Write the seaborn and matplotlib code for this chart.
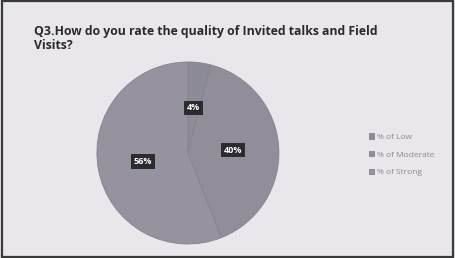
import matplotlib
matplotlib.use('Agg')
import matplotlib.pyplot as plt
import seaborn as sns

# Chart data
categories = ['% of Low', '% of Moderate', '% of Strong']
shares     = [4, 40, 56]
title_text = 'Q3.How do you rate the quality of Invited talks and Field\nVisits?'

slice_colors = ['#8e8b98', '#918e9a', '#96939e']

sns.set_theme(style='white')
plt.rcParams['font.family'] = ['Open Sans', 'DejaVu Sans']

fig = plt.figure(figsize=(4.55, 2.58), dpi=100)
fig.patch.set_facecolor('#e9e7eb')

# outer scan border
border = plt.Rectangle((0.004, 0.004), 0.992, 0.992, transform=fig.transFigure,
                       fill=False, edgecolor='#3a3a3a', linewidth=1.6)
fig.add_artist(border)

ax = fig.add_axes([0.163, -0.034, 0.50, 0.882])
ax.set_facecolor('none')

wedges, texts, autotexts = ax.pie(
    shares, colors=slice_colors, startangle=90, counterclock=False,
    autopct='%1.0f%%', pctdistance=0.5,
    wedgeprops=dict(edgecolor='#85828e', linewidth=0.6)
)
for t in autotexts:
    t.set_color('white')
    t.set_fontsize(6.5)
    t.set_fontweight('bold')
    t.set_bbox(dict(boxstyle='square,pad=0.3', facecolor='#2c2b30', edgecolor='none'))
ax.set_aspect('equal')

fig.text(0.075, 0.905, title_text, fontsize=8.8, fontweight='bold',
         color='#2a2a2a', va='top', ha='left', linespacing=1.15)

leg = fig.legend(wedges, categories, loc='center left', bbox_to_anchor=(0.795, 0.40),
                 frameon=False, fontsize=6, handlelength=0.6, handleheight=0.6,
                 handletextpad=0.3, labelspacing=1.2)
for txt in leg.get_texts():
    txt.set_color('#8a8a8a')

fig.savefig('out.png', dpi=100, facecolor=fig.get_facecolor())
